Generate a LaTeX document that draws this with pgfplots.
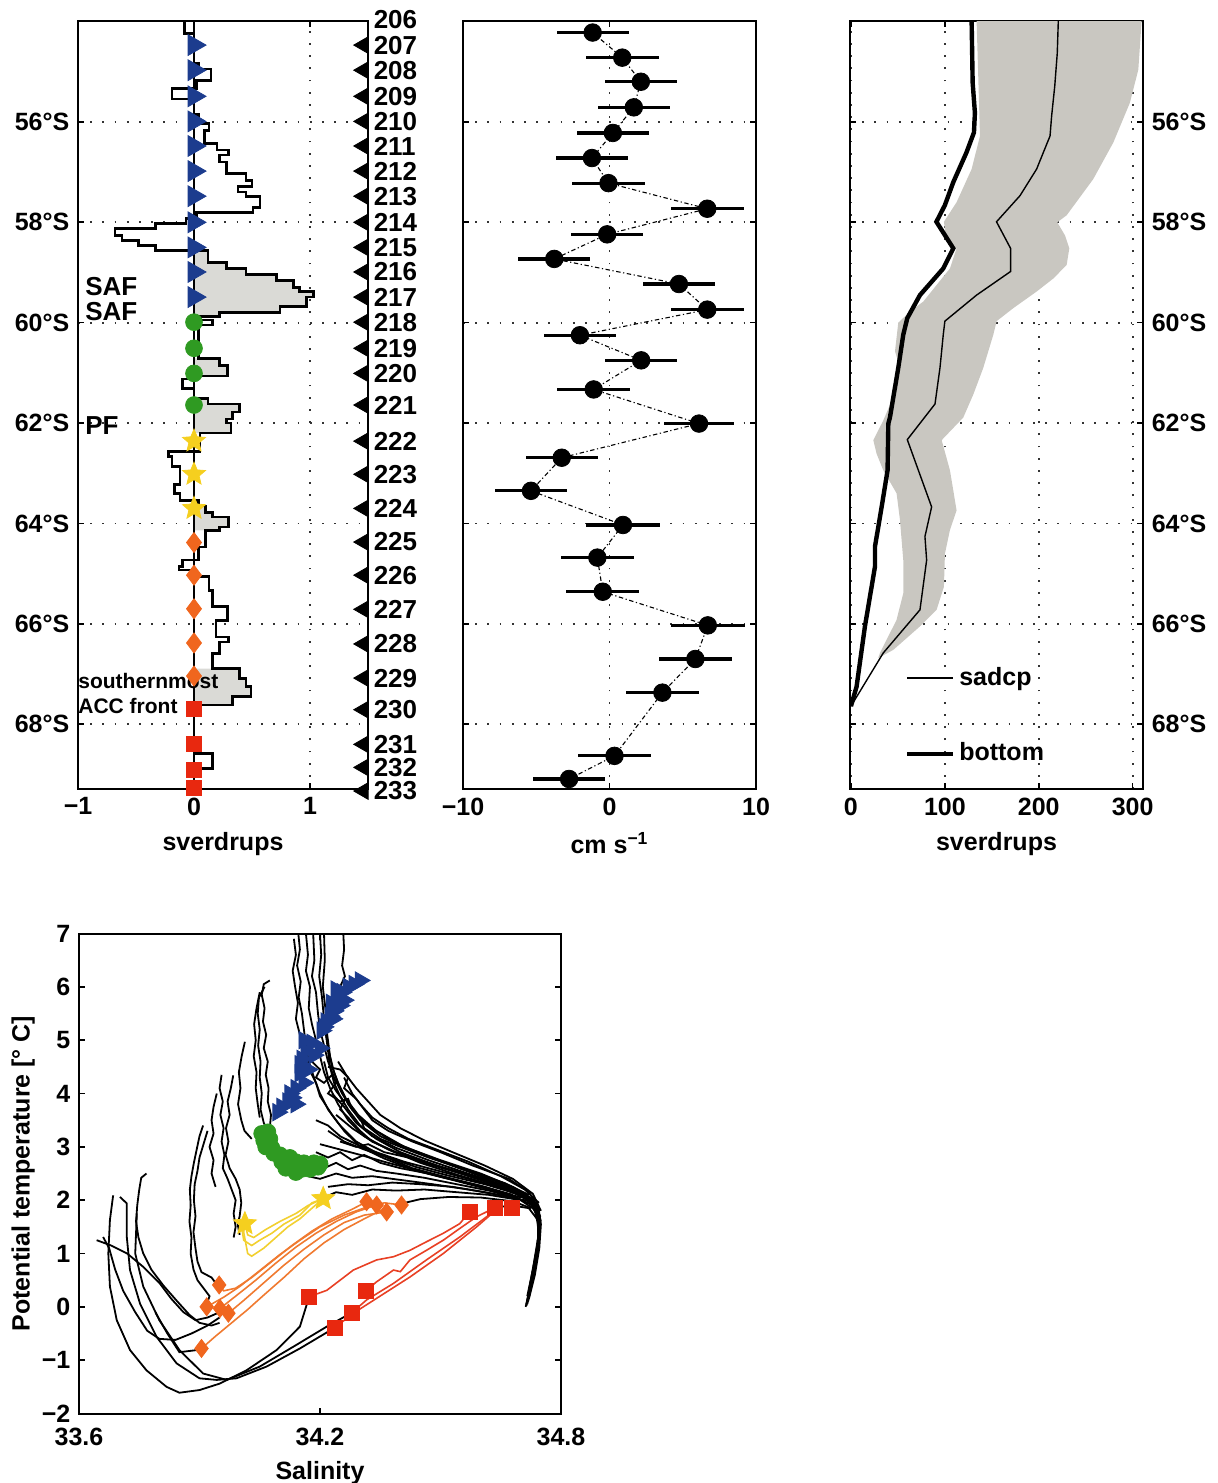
\documentclass[border=0pt]{standalone}
\usepackage{fontspec}
\setmainfont{Liberation Sans}
\usepackage{pgfplots}
\pgfplotsset{compat=1.18}
\usetikzlibrary{plotmarks}

\definecolor{navy}{HTML}{1C3C8E}
\definecolor{grn}{HTML}{2F9A22}
\definecolor{yel}{HTML}{F5CF1F}
\definecolor{org}{HTML}{F0661E}
\definecolor{rd}{HTML}{E8280F}
\definecolor{oline}{HTML}{F07A30}
\definecolor{rline}{HTML}{E84024}
\definecolor{yline}{HTML}{F2D030}
\definecolor{band}{HTML}{C9C7C1}
\definecolor{fillA}{HTML}{DADAD6}

% filled five-point star
\pgfdeclareplotmark{fstar}{%
  \pgfpathmoveto{\pgfpointpolar{90}{\pgfplotmarksize}}%
  \pgfpathlineto{\pgfpointpolar{126}{0.45\pgfplotmarksize}}%
  \pgfpathlineto{\pgfpointpolar{162}{\pgfplotmarksize}}%
  \pgfpathlineto{\pgfpointpolar{198}{0.45\pgfplotmarksize}}%
  \pgfpathlineto{\pgfpointpolar{234}{\pgfplotmarksize}}%
  \pgfpathlineto{\pgfpointpolar{270}{0.45\pgfplotmarksize}}%
  \pgfpathlineto{\pgfpointpolar{306}{\pgfplotmarksize}}%
  \pgfpathlineto{\pgfpointpolar{342}{0.45\pgfplotmarksize}}%
  \pgfpathlineto{\pgfpointpolar{18}{\pgfplotmarksize}}%
  \pgfpathlineto{\pgfpointpolar{54}{0.45\pgfplotmarksize}}%
  \pgfpathclose\pgfusepathqfillstroke}

\pgfplotsset{
  dotgrid/.style={grid=major,
    major grid style={draw=black!80, line width=0.9pt, dash pattern=on 0.9pt off 5.2pt}},
  latpanel/.style={scale only axis, anchor=south west, height=384pt,
    ymin=-69.29, ymax=-53.99, ytick={-68,-66,-64,-62,-60,-58,-56},
    dotgrid, tick align=inside, major tick length=3pt,
    tick style={black, line width=0.8pt}, axis line style={line width=1.1pt}},
  prof/.style={black, line width=0.9pt},
}

\begin{document}
\bfseries\fontsize{12.5}{15}\selectfont
\begin{tikzpicture}
\useasboundingbox (0pt,0pt) rectangle (609pt,-741.5pt);

%% ---------- panel 1: transport per station pair ----------
\begin{axis}[latpanel, at={(39pt,-394.5pt)}, width=145pt,
  xmin=-1, xmax=1.5, xtick={-1,0,1}, xticklabels={−1,0,1},
  yticklabels={68°S,66°S,64°S,62°S,60°S,58°S,56°S},
  ytick pos=left, xlabel={sverdrups}, clip=false]
\addplot[fill=fillA, draw=none, const plot mark right] coordinates {(0,-58.56)(0.12,-58.56)(0.28,-58.80)(0.45,-58.92)(0.71,-59.04)(0.86,-59.16)(0.91,-59.30)(1.03,-59.38)(0.97,-59.49)(0.74,-59.68)(0.22,-59.80)(0,-59.88)} -- cycle;
\addplot[fill=fillA, draw=none, const plot mark right] coordinates {(0,-60.71)(0.22,-60.71)(0.29,-60.85)(0,-61.06)} -- cycle;
\addplot[fill=fillA, draw=none, const plot mark right] coordinates {(0,-61.51)(0.12,-61.51)(0.39,-61.62)(0.33,-61.78)(0.28,-61.92)(0.32,-62.0)(0,-62.20)} -- cycle;
\addplot[fill=fillA, draw=none, const plot mark right] coordinates {(0,-63.54)(0.04,-63.54)(0.10,-63.65)(0.16,-63.78)(0.30,-63.87)(0.22,-64.07)(0,-64.14)} -- cycle;
\addplot[fill=fillA, draw=none, const plot mark right] coordinates {(0,-66.89)(0.39,-66.89)(0.45,-67.09)(0.49,-67.25)(0.33,-67.45)(0,-67.62)} -- cycle;
\addplot[black, line width=1.3pt, const plot mark right] coordinates {
(-0.08,-53.99)(0.0,-54.24)(0.04,-54.84)(0.145,-54.95)(0.02,-55.17)(-0.19,-55.34)(0.0,-55.54)(0.04,-55.85)
(0.13,-56.03)(0.09,-56.17)(0.20,-56.43)(0.30,-56.56)(0.22,-56.66)(0.28,-56.80)(0.45,-57.03)(0.50,-57.17)
(0.38,-57.29)(0.45,-57.40)(0.57,-57.49)(0.51,-57.70)(0.02,-57.80)(-0.07,-57.93)(-0.33,-58.02)(-0.68,-58.12)
(-0.62,-58.26)(-0.48,-58.36)(-0.33,-58.46)(0.12,-58.56)(0.28,-58.80)(0.45,-58.92)(0.71,-59.04)(0.86,-59.16)
(0.91,-59.30)(1.03,-59.38)(0.97,-59.49)(0.74,-59.68)(0.22,-59.80)(0.0,-59.88)(0.16,-59.95)(0.04,-60.05)
(0.22,-60.71)(0.29,-60.85)(0.0,-61.06)(-0.10,-61.12)(0.0,-61.31)(0.12,-61.51)(0.39,-61.62)(0.33,-61.78)
(0.28,-61.92)(0.32,-62.0)(0.05,-62.20)(-0.22,-62.57)(-0.19,-62.67)(-0.12,-62.87)(-0.17,-63.22)(-0.12,-63.40)
(0.04,-63.54)(0.10,-63.65)(0.16,-63.78)(0.30,-63.87)(0.22,-64.07)(0.10,-64.14)(0.04,-64.47)(-0.10,-64.73)
(-0.13,-64.86)(-0.01,-64.93)(0.13,-65.06)(0.16,-65.33)(0.29,-65.66)(0.19,-65.93)(0.30,-66.26)(0.22,-66.36)
(0.16,-66.59)(0.39,-66.89)(0.45,-67.09)(0.49,-67.25)(0.33,-67.45)(0.0,-67.62)(0.16,-68.58)(0.0,-68.88)(0.0,-69.29)};
\addplot[black, line width=0.8pt] coordinates {(0,-53.99)(0,-69.29)};
% station markers
\addplot[only marks, mark=triangle*, mark size=6pt, mark options={rotate=-90}, color=navy] coordinates {
(0,-54.47)(0,-54.97)(0,-55.49)(0,-55.99)(0,-56.48)(0,-56.98)(0,-57.48)(0,-58.00)(0,-58.50)(0,-58.99)(0,-59.49)};
\addplot[only marks, mark=*, mark size=4.2pt, color=grn] coordinates {(0,-59.99)(0,-60.51)(0,-61.01)(0,-61.64)};
\addplot[only marks, mark=fstar, mark size=6pt, color=yel] coordinates {(0,-62.36)(0,-63.02)(0,-63.70)};
\addplot[only marks, mark=diamond*, mark size=5pt, color=org] coordinates {(0,-64.38)(0,-65.03)(0,-65.70)(0,-66.38)(0,-67.04)};
\addplot[only marks, mark=square*, mark size=3.75pt, color=rd] coordinates {(0,-67.70)(0,-68.39)(0,-68.90)(0,-69.27)};
% station numbers
\addplot[only marks, mark=triangle*, mark size=4.8pt, mark options={rotate=90}, color=black,
  nodes near coords, point meta=explicit symbolic,
  every node near coord/.append style={anchor=west, inner sep=0pt, xshift=5pt, black,
    font=\fontsize{13}{13}\selectfont\bfseries}] coordinates {
(1.46,-54.47)[207](1.46,-54.97)[208](1.46,-55.49)[209](1.46,-55.99)[210](1.46,-56.48)[211]
(1.46,-56.98)[212](1.46,-57.48)[213](1.46,-58.00)[214](1.46,-58.50)[215](1.46,-58.99)[216]
(1.46,-59.49)[217](1.46,-59.99)[218](1.46,-60.51)[219](1.46,-61.01)[220](1.46,-61.64)[221]
(1.46,-62.36)[222](1.46,-63.02)[223](1.46,-63.70)[224](1.46,-64.37)[225](1.46,-65.03)[226]
(1.46,-65.71)[227](1.46,-66.40)[228](1.46,-67.08)[229](1.46,-67.71)[230](1.46,-68.40)[231]
(1.46,-68.86)[232](1.46,-69.33)[233]};
\addplot[only marks, mark=none, nodes near coords, point meta=explicit symbolic,
  every node near coord/.append style={anchor=west, inner sep=0pt, xshift=5pt, black,
    font=\fontsize{13}{13}\selectfont\bfseries}] coordinates {(1.46,-53.97)[206]};
\node[anchor=west, inner sep=0pt, font=\fontsize{13}{14}\selectfont\bfseries] at (axis cs:-0.94,-59.29) {SAF};
\node[anchor=west, inner sep=0pt, font=\fontsize{13}{14}\selectfont\bfseries] at (axis cs:-0.94,-59.77) {SAF};
\node[anchor=west, inner sep=0pt, font=\fontsize{13}{14}\selectfont\bfseries] at (axis cs:-0.94,-62.04) {PF};
\node[anchor=west, inner sep=0pt, font=\fontsize{10.5}{12}\selectfont\bfseries] at (axis cs:-1,-67.14) {southernmost};
\node[anchor=west, inner sep=0pt, font=\fontsize{10.5}{12}\selectfont\bfseries] at (axis cs:-1,-67.64) {ACC front};
\end{axis}

%% ---------- panel 2: velocity ----------
\begin{axis}[latpanel, at={(231.5pt,-394.5pt)}, width=146.5pt,
  xmin=-10, xmax=10, xtick={-10,0,10}, xticklabels={−10,0,10},
  yticklabels={}, xlabel={cm s\textsuperscript{−1}}, axis line style={line width=1.4pt}]
\addplot[black, line width=0.55pt, dash pattern=on 2.2pt off 1.3pt on 0.6pt off 1.3pt] coordinates {
(-1.15,-54.22)(0.87,-54.72)(2.14,-55.20)(1.66,-55.71)(0.23,-56.22)(-1.20,-56.72)(-0.07,-57.22)(6.67,-57.73)
(-0.16,-58.24)(-3.77,-58.73)(4.74,-59.23)(6.67,-59.74)(-2.02,-60.25)(2.16,-60.75)(-1.08,-61.33)(6.11,-62.01)
(-3.26,-62.69)(-5.36,-63.35)(0.92,-64.03)(-0.83,-64.68)(-0.46,-65.36)(6.71,-66.03)(5.86,-66.70)(3.61,-67.37)
(0.34,-68.63)(-2.76,-69.09)};
\addplot[black, only marks, mark=*, mark size=4.4pt,
  error bars/.cd, x dir=both, x explicit, error mark=none,
  error bar style={line width=1.6pt}] coordinates {
(-1.15,-54.22) +- (2.46,0) (0.87,-54.72) +- (2.49,0) (2.14,-55.20) +- (2.46,0) (1.66,-55.71) +- (2.47,0)
(0.23,-56.22) +- (2.48,0) (-1.20,-56.72) +- (2.48,0) (-0.07,-57.22) +- (2.48,0) (6.67,-57.73) +- (2.49,0)
(-0.16,-58.24) +- (2.47,0) (-3.77,-58.73) +- (2.47,0) (4.74,-59.23) +- (2.48,0) (6.67,-59.74) +- (2.5,0)
(-2.02,-60.25) +- (2.47,0) (2.16,-60.75) +- (2.48,0) (-1.08,-61.33) +- (2.49,0) (6.11,-62.01) +- (2.41,0)
(-3.26,-62.69) +- (2.47,0) (-5.36,-63.35) +- (2.45,0) (0.92,-64.03) +- (2.53,0) (-0.83,-64.68) +- (2.47,0)
(-0.46,-65.36) +- (2.49,0) (6.71,-66.03) +- (2.53,0) (5.86,-66.70) +- (2.48,0) (3.61,-67.37) +- (2.48,0)
(0.34,-68.63) +- (2.47,0) (-2.76,-69.09) +- (2.47,0)};
\end{axis}

%% ---------- panel 3: cumulative transport ----------
\begin{axis}[latpanel, at={(425pt,-394.5pt)}, width=146.5pt,
  xmin=-1, xmax=311, xtick={0,100,200,300}, xticklabels={0,100,200,300},
  yticklabels={68°S,66°S,64°S,62°S,60°S,58°S,56°S},
  yticklabel pos=right, xlabel={sverdrups},
  legend cell align=left,
  legend style={draw=none, fill=none, at={(axis cs:57,-66.77)}, anchor=north west,
    inner sep=0pt, row sep=23pt, font=\fontsize{12.5}{14}\selectfont\bfseries},
  legend image code/.code={\draw[#1] (0pt,0pt) -- (23pt,0pt);}]
\addplot[fill=band, draw=none, forget plot] coordinates {
(309.5,-53.99)(306,-54.96)(297,-55.62)(279.4,-56.41)(258,-57.14)(229.7,-57.86)(219.7,-58.0)(227.9,-58.26)
(232.5,-58.52)(229.7,-58.85)(215.5,-59.12)(197.7,-59.38)(172.9,-59.71)(155.1,-59.97)(151.6,-60.24)
(140.9,-60.9)(130.3,-61.43)(119.6,-61.89)(96.6,-62.34)(105.4,-62.94)(112.5,-63.74)(105.4,-64.13)
(100.1,-64.6)(99,-65.26)(91.2,-65.72)(73.5,-66.05)(45,-66.52)(29,-66.68)
(30.9,-66.58)(48.6,-65.92)(55.7,-65.39)(55.7,-64.73)(52.2,-63.93)(48.6,-63.4)(34.4,-62.94)(27.3,-62.61)
(23.8,-62.34)(34.4,-61.95)(43.3,-61.56)(52.2,-60.9)(46.9,-60.57)(50.4,-60.0)(62.8,-59.78)(77,-59.58)
(91.2,-59.25)(105.4,-58.92)(112.5,-58.52)(101.9,-58.39)(99,-57.99)(112.5,-57.6)(128.5,-56.94)
(137.4,-56.28)(136.7,-55.82)(133.8,-53.99)} -- cycle;
\addplot[black, line width=0.7pt] coordinates {
(220.8,-53.99)(219.7,-54.63)(217,-55.29)(213.7,-55.88)(212,-56.28)(197.7,-56.94)(180,-57.47)(155,-57.99)
(170,-58.52)(170,-58.98)(133.8,-59.45)(100,-59.97)(98.3,-60.24)(94.8,-60.9)(89.5,-61.62)(60,-62.33)
(85.9,-63.67)(78.8,-64.26)(80.6,-64.73)(73.5,-65.72)(34.4,-66.58)(0,-67.64)};
\addlegendentry{sadcp}
\addplot[black, line width=2.2pt] coordinates {
(128.5,-53.99)(129.6,-55.22)(132,-55.82)(131,-56.21)(123,-56.61)(109,-57.2)(100,-57.66)(91,-57.99)
(109,-58.52)(98.3,-58.92)(73.5,-59.45)(60,-59.91)(55.7,-60.24)(50.4,-60.9)(41.5,-61.89)(39.8,-62.01)
(39,-62.94)(32.7,-63.67)(25.6,-64.46)(25.6,-64.86)(14.9,-66.05)(6,-67.25)(0,-67.64)};
\addlegendentry{bottom}
\end{axis}

%% ---------- panel 4: theta-S ----------
\begin{axis}[at={(39.5pt,-706.75pt)}, anchor=south west, scale only axis,
  width=241pt, height=240pt, xmin=33.6, xmax=34.8, ymin=-2, ymax=7,
  xtick={33.6,34.2,34.8}, xticklabels={33.6,34.2,34.8},
  ytick={-2,-1,0,1,2,3,4,5,6,7}, yticklabels={−2,−1,0,1,2,3,4,5,6,7},
  tick align=inside, major tick length=3pt, tick style={black, line width=0.8pt},
  axis line style={line width=1pt},
  xticklabel style={yshift=-3pt}, xlabel style={yshift=1pt},
  ylabel style={yshift=-5pt},
  xlabel={Salinity}, ylabel={Potential temperature [° C]}]
% northern deep profiles
\addplot[prof] coordinates {(34.146,7.0)(34.150,6.7)(34.143,6.4)(34.152,6.1)(34.147,5.8)(34.155,5.5)(34.160,5.2)(34.165,4.9)(34.172,4.6)(34.185,4.3)(34.2,4.0)(34.22,3.7)(34.25,3.4)(34.29,3.1)(34.35,2.85)(34.43,2.6)(34.52,2.42)(34.61,2.25)(34.68,2.08)(34.73,1.9)(34.745,1.6)(34.742,1.2)(34.73,0.7)(34.716,0.2)};
\addplot[prof] coordinates {(34.165,7.0)(34.170,6.6)(34.165,6.3)(34.175,6.0)(34.172,5.6)(34.18,5.3)(34.19,5.0)(34.2,4.7)(34.21,4.4)(34.225,4.1)(34.245,3.8)(34.27,3.5)(34.31,3.2)(34.37,2.95)(34.45,2.7)(34.54,2.48)(34.63,2.28)(34.7,2.1)(34.738,1.85)(34.748,1.5)(34.744,1.1)(34.732,0.6)(34.718,0.1)};
\addplot[prof] coordinates {(34.183,7.0)(34.186,6.5)(34.18,6.2)(34.19,5.9)(34.195,5.5)(34.2,5.2)(34.21,4.9)(34.22,4.6)(34.235,4.3)(34.255,4.0)(34.28,3.7)(34.32,3.4)(34.38,3.1)(34.46,2.85)(34.55,2.6)(34.64,2.35)(34.71,2.12)(34.742,1.9)(34.75,1.55)(34.746,1.1)(34.735,0.6)(34.72,0.15)};
\addplot[prof] coordinates {(34.2,7.0)(34.203,6.6)(34.198,6.2)(34.205,5.8)(34.21,5.4)(34.215,5.1)(34.222,4.8)(34.23,4.5)(34.245,4.2)(34.265,3.9)(34.295,3.6)(34.34,3.3)(34.41,3.0)(34.5,2.75)(34.6,2.5)(34.68,2.25)(34.73,2.02)(34.748,1.7)(34.745,1.2)(34.73,0.6)(34.712,0.0)};
\addplot[prof] coordinates {(34.21,7.0)(34.212,6.5)(34.207,6.0)(34.215,5.5)(34.218,5.1)(34.225,4.7)(34.235,4.4)(34.25,4.1)(34.27,3.8)(34.3,3.5)(34.35,3.2)(34.42,2.95)(34.51,2.7)(34.6,2.45)(34.67,2.2)(34.72,1.98)(34.742,1.7)(34.743,1.3)(34.732,0.8)(34.72,0.3)};
\addplot[prof] coordinates {(34.215,5.1)(34.22,4.8)(34.225,4.5)(34.235,4.2)(34.25,3.95)(34.27,3.7)(34.3,3.4)(34.34,3.15)(34.4,2.9)(34.48,2.68)(34.57,2.45)(34.65,2.25)(34.71,2.05)(34.74,1.8)(34.746,1.45)(34.74,1.0)(34.725,0.45)(34.714,0.02)};
\addplot[prof] coordinates {(34.258,7.0)(34.26,6.7)(34.255,6.4)(34.262,6.2)(34.25,6.0)(34.24,5.8)(34.23,5.5)};
\addplot[prof] coordinates {(34.135,6.9)(34.14,6.6)(34.132,6.3)(34.138,6.0)(34.145,5.7)(34.14,5.4)(34.15,5.1)(34.16,4.8)(34.17,4.5)(34.19,4.2)(34.2,3.95)(34.23,3.6)(34.26,3.3)(34.3,3.0)(34.36,2.78)(34.44,2.55)(34.53,2.38)(34.62,2.2)(34.69,2.05)(34.735,1.82)(34.745,1.45)(34.738,0.9)(34.722,0.35)(34.714,0.05)};
\addplot[prof] coordinates {(34.21,4.6)(34.22,4.3)(34.24,4.05)(34.26,3.85)(34.25,3.7)(34.27,3.55)(34.3,3.3)(34.33,3.1)(34.38,2.92)(34.45,2.74)(34.55,2.52)(34.64,2.3)(34.7,2.1)};
\addplot[prof] coordinates {(34.18,4.6)(34.2,4.45)(34.19,4.3)(34.21,4.2)(34.23,4.35)(34.24,4.2)(34.22,4.0)(34.25,3.85)(34.27,3.9)(34.28,3.7)(34.3,3.55)(34.31,3.35)(34.35,3.15)(34.4,3.0)(34.47,2.8)(34.56,2.58)(34.66,2.32)(34.72,2.1)};
\addplot[prof] coordinates {(34.22,4.5)(34.25,4.45)(34.27,4.3)(34.26,4.1)(34.29,3.9)(34.31,3.7)(34.33,3.5)(34.37,3.3)(34.43,3.1)(34.5,2.9)(34.58,2.65)(34.67,2.4)(34.72,2.15)(34.745,1.85)(34.748,1.4)(34.74,0.9)(34.726,0.4)(34.716,0.05)};
\addplot[prof] coordinates {(34.23,4.0)(34.26,3.75)(34.29,3.45)(34.33,3.2)(34.39,2.98)(34.47,2.75)(34.56,2.52)(34.65,2.3)(34.71,2.1)(34.74,1.85)};
\addplot[prof] coordinates {(34.24,3.6)(34.28,3.35)(34.33,3.1)(34.39,2.9)(34.46,2.7)(34.55,2.5)(34.63,2.32)(34.7,2.12)(34.74,1.9)(34.75,1.6)};
\addplot[prof] coordinates {(34.22,3.3)(34.26,3.1)(34.31,2.95)(34.37,2.8)(34.44,2.62)(34.52,2.46)(34.61,2.3)(34.69,2.12)};
\addplot[prof] coordinates {(34.2,3.05)(34.25,2.95)(34.3,2.85)(34.36,2.72)(34.43,2.58)(34.51,2.42)(34.6,2.27)(34.68,2.1)};
\addplot[prof] coordinates {(34.26,4.3)(34.28,4.0)(34.3,3.8)(34.33,3.55)(34.37,3.35)(34.42,3.15)(34.49,2.95)(34.57,2.72)(34.65,2.45)(34.71,2.2)(34.745,1.95)};
\addplot[prof] coordinates {(34.245,4.6)(34.265,4.35)(34.29,4.1)(34.32,3.85)(34.35,3.6)(34.4,3.35)(34.46,3.12)(34.53,2.9)(34.61,2.65)(34.68,2.4)(34.73,2.12)(34.75,1.8)};
\addplot[prof] coordinates {(34.19,3.5)(34.22,3.4)(34.25,3.2)(34.29,3.05)(34.34,2.9)(34.41,2.72)(34.49,2.56)(34.58,2.38)(34.66,2.2)(34.72,2.02)};
\addplot[prof] coordinates {(34.19,2.9)(34.22,2.8)(34.25,2.9)(34.28,2.75)(34.31,2.85)(34.35,2.7)(34.4,2.6)(34.47,2.5)(34.55,2.35)(34.63,2.2)(34.7,2.05)};
\addplot[prof] coordinates {(34.21,2.6)(34.24,2.7)(34.27,2.58)(34.3,2.65)(34.34,2.55)(34.39,2.5)(34.46,2.42)(34.54,2.3)(34.62,2.18)(34.69,2.04)};
\addplot[prof] coordinates {(34.17,2.45)(34.2,2.4)(34.24,2.5)(34.28,2.42)(34.33,2.45)(34.4,2.38)(34.48,2.3)(34.57,2.2)(34.66,2.08)(34.72,1.98)};
\addplot[prof] coordinates {(34.25,3.1)(34.29,3.0)(34.32,3.05)(34.36,2.9)(34.42,2.8)(34.5,2.62)(34.6,2.42)(34.68,2.2)(34.73,2.0)};
\addplot[prof] coordinates {(34.21,2.05)(34.24,2.15)(34.28,2.1)(34.33,2.2)(34.39,2.18)(34.46,2.2)(34.54,2.15)(34.62,2.1)(34.7,2.0)};
\addplot[prof] coordinates {(34.22,2.25)(34.27,2.3)(34.32,2.28)(34.38,2.33)(34.45,2.3)(34.53,2.25)(34.61,2.15)(34.69,2.03)};
\addplot[prof] coordinates {(34.40,1.93)(34.45,2.02)(34.52,2.06)(34.6,2.05)(34.68,1.98)(34.725,1.85)};
\addplot[prof] coordinates {(34.64,1.87)(34.68,1.9)(34.72,1.85)(34.74,1.65)};
% surface profiles
\addplot[prof] coordinates {(34.075,6.12)(34.06,6.05)(34.055,5.85)(34.062,5.6)(34.058,5.35)(34.066,5.1)(34.06,4.85)(34.07,4.6)(34.065,4.35)(34.072,4.1)(34.07,3.85)(34.078,3.6)(34.075,3.35)};
\addplot[prof] coordinates {(34.062,6.0)(34.048,5.8)(34.045,5.5)(34.05,5.2)(34.046,4.9)(34.052,4.6)(34.05,4.3)(34.055,4.0)(34.052,3.7)(34.06,3.45)(34.07,3.3)};
\addplot[prof] coordinates {(34.05,5.9)(34.042,5.6)(34.036,5.3)(34.04,5.0)(34.035,4.7)(34.042,4.4)(34.04,4.1)(34.045,3.8)(34.05,3.55)};
\addplot[prof] coordinates {(34.013,4.97)(34.005,4.7)(33.998,4.4)(34.002,4.1)(33.996,3.8)(34.004,3.5)(34.012,3.3)(34.03,3.15)};
\addplot[prof] coordinates {(33.984,4.34)(33.978,4.1)(33.97,3.85)(33.975,3.6)(33.966,3.35)(33.972,3.1)(33.965,2.85)(33.975,2.6)(33.99,2.4)(34.0,2.2)(34.004,1.95)(34.0,1.7)(33.995,1.55)(34.0,1.35)};
\addplot[prof] coordinates {(33.955,4.35)(33.95,4.1)(33.958,3.85)(33.952,3.6)(33.96,3.35)(33.955,3.1)(33.962,2.85)(33.958,2.6)(33.97,2.4)(33.98,2.2)(33.99,2.0)(33.985,1.75)(33.99,1.5)(33.985,1.3)};
\addplot[prof] coordinates {(33.943,4.0)(33.935,3.75)(33.93,3.5)(33.935,3.25)(33.925,3.0)(33.935,2.75)(33.93,2.5)(33.94,2.25)};
\addplot[prof] coordinates {(33.909,3.4)(33.9,3.2)(33.893,2.95)(33.886,2.7)(33.88,2.45)(33.876,2.2)(33.878,1.9)(33.875,1.6)(33.88,1.3)(33.878,1.0)(33.885,0.7)(33.895,0.5)(33.91,0.35)(33.925,0.2)(33.918,0.05)};
\addplot[prof] coordinates {(33.92,3.3)(33.91,3.05)(33.9,2.8)(33.895,2.55)(33.888,2.3)(33.886,2.0)(33.89,1.7)(33.885,1.4)(33.89,1.1)(33.895,0.85)(33.905,0.65)(33.93,0.55)(33.94,0.45)};
\addplot[prof] coordinates {(33.768,2.5)(33.755,2.42)(33.75,2.2)(33.745,1.9)(33.742,1.6)(33.748,1.3)(33.76,1.0)(33.78,0.7)(33.81,0.4)(33.845,0.1)(33.875,-0.15)(33.9,-0.3)(33.93,-0.35)(33.95,-0.3)};
% winter-water profiles
\addplot[prof] coordinates {(33.685,2.09)(33.677,1.63)(33.673,1.0)(33.677,0.38)(33.694,-0.25)(33.727,-0.81)(33.768,-1.19)(33.818,-1.5)(33.85,-1.61)(33.90,-1.56)(33.95,-1.44)(34.017,-1.19)(34.092,-0.81)(34.15,-0.37)(34.173,0.19)};
\addplot[prof] coordinates {(33.702,2.06)(33.719,1.94)(33.719,1.31)(33.727,0.69)(33.752,0.06)(33.793,-0.56)(33.843,-1.06)(33.90,-1.34)(33.943,-1.37)(33.992,-1.34)(34.067,-1.12)(34.15,-0.78)(34.237,-0.39)};
\addplot[prof] coordinates {(33.744,1.75)(33.74,1.0)(33.76,0.38)(33.80,-0.25)(33.85,-0.81)(33.909,-1.25)(33.968,-1.37)(34.05,-1.12)(34.133,-0.75)(34.217,-0.37)(34.279,-0.11)};
\addplot[prof] coordinates {(33.644,1.25)(33.68,1.15)(33.72,1.0)(33.76,0.75)(33.80,0.45)(33.83,0.15)(33.86,-0.1)(33.89,-0.25)(33.92,-0.2)(33.95,-0.1)};
\addplot[prof] coordinates {(33.66,1.31)(33.675,1.1)(33.69,0.7)(33.71,0.3)(33.74,-0.1)(33.77,-0.45)(33.80,-0.6)(33.84,-0.62)(33.88,-0.5)(33.92,-0.35)(33.95,-0.2)};
\addplot[prof] coordinates {(33.79,-0.1)(33.82,-0.5)(33.85,-0.85)(33.905,-0.8)};
% colored segments
\addplot[yline, line width=0.8pt] coordinates {(34.013,1.56)(34.01,1.4)(34.015,1.2)(34.02,1.0)(34.03,0.95)(34.06,1.1)(34.09,1.3)(34.12,1.5)(34.15,1.65)(34.18,1.85)(34.208,2.03)};
\addplot[yline, line width=0.8pt] coordinates {(34.013,1.56)(34.02,1.35)(34.035,1.3)(34.065,1.45)(34.1,1.6)(34.14,1.75)(34.17,1.9)(34.2,2.0)};
\addplot[yline, line width=0.8pt] coordinates {(34.005,1.5)(34.01,1.25)(34.03,1.15)(34.05,1.25)(34.08,1.38)(34.11,1.55)(34.15,1.72)(34.18,1.95)(34.208,2.03)};
\addplot[oline, line width=0.8pt] coordinates {(33.949,0.41)(33.96,0.3)(33.99,0.35)(34.03,0.55)(34.08,0.85)(34.13,1.15)(34.18,1.42)(34.23,1.65)(34.28,1.83)(34.316,1.97)};
\addplot[oline, line width=0.8pt] coordinates {(33.951,-0.03)(33.99,0.2)(34.04,0.5)(34.09,0.82)(34.14,1.12)(34.19,1.38)(34.24,1.6)(34.29,1.78)(34.341,1.91)};
\addplot[oline, line width=0.8pt] coordinates {(33.972,-0.12)(34.01,0.12)(34.06,0.45)(34.11,0.78)(34.16,1.08)(34.21,1.35)(34.26,1.58)(34.31,1.72)(34.366,1.78)};
\addplot[oline, line width=0.8pt] coordinates {(33.918,0.0)(33.96,0.18)(34.0,0.38)(34.05,0.68)(34.10,0.98)(34.15,1.25)(34.2,1.5)(34.26,1.72)(34.32,1.88)(34.36,1.95)(34.403,1.91)};
\addplot[oline, line width=0.8pt] coordinates {(33.905,-0.78)(33.94,-0.55)(33.98,-0.3)(34.02,-0.05)(34.06,0.22)(34.11,0.55)(34.16,0.9)(34.21,1.2)(34.26,1.45)(34.31,1.65)(34.35,1.8)(34.366,1.78)};
\addplot[rline, line width=0.8pt] coordinates {(34.173,0.19)(34.217,0.31)(34.283,0.69)(34.341,0.88)(34.383,0.94)(34.424,1.06)(34.465,1.22)(34.507,1.38)(34.548,1.56)(34.572,1.78)};
\addplot[rline, line width=0.8pt] coordinates {(34.314,0.30)(34.341,0.47)(34.383,0.69)(34.40,0.66)(34.424,0.88)(34.465,1.06)(34.507,1.25)(34.548,1.47)(34.59,1.69)(34.636,1.86)};
\addplot[rline, line width=0.8pt] coordinates {(34.279,-0.11)(34.316,0.13)(34.383,0.44)(34.465,0.88)(34.548,1.31)(34.615,1.69)(34.648,1.91)};
\addplot[rline, line width=0.8pt] coordinates {(34.237,-0.39)(34.283,-0.12)(34.341,0.16)(34.424,0.56)(34.507,1.0)(34.59,1.5)(34.648,1.88)};
% markers
\addplot[only marks, mark=triangle*, mark size=5pt, mark options={rotate=-90}, color=navy] coordinates {
(34.30,6.12)(34.285,6.05)(34.27,6.0)(34.255,5.9)(34.245,5.8)(34.25,5.65)(34.235,5.55)(34.225,5.45)(34.215,5.35)(34.21,5.25)
(34.24,5.95)(34.228,5.7)(34.205,5.18)(34.232,5.4)(34.26,5.75)(34.16,5.0)(34.18,4.95)(34.2,4.85)(34.165,4.8)(34.185,4.72)(34.155,4.65)
(34.17,4.45)(34.15,4.38)(34.16,4.2)(34.14,4.1)(34.13,3.92)(34.12,3.85)(34.105,3.75)(34.14,3.8)(34.095,3.65)(34.15,4.55)(34.125,4.0)};
\addplot[only marks, mark=*, mark size=4pt, color=grn] coordinates {
(34.055,3.25)(34.07,3.28)(34.06,3.12)(34.075,3.15)(34.065,3.0)(34.08,2.98)(34.085,2.88)(34.1,2.85)(34.105,2.72)
(34.12,2.7)(34.115,2.6)(34.135,2.62)(34.14,2.52)(34.155,2.58)(34.17,2.65)(34.185,2.7)(34.2,2.68)(34.195,2.62)
(34.175,2.58)(34.16,2.7)(34.14,2.72)(34.125,2.8)};
\addplot[only marks, mark=fstar, mark size=6pt, color=yel] coordinates {(34.013,1.56)(34.208,2.03)};
\addplot[only marks, mark=diamond*, mark size=4.5pt, color=org] coordinates {
(33.949,0.41)(33.918,0.0)(33.951,-0.03)(33.972,-0.12)(33.905,-0.78)(34.316,1.97)(34.341,1.91)(34.366,1.78)(34.403,1.91)};
\addplot[only marks, mark=square*, mark size=3.75pt, color=rd] coordinates {
(34.173,0.19)(34.314,0.30)(34.279,-0.11)(34.237,-0.39)(34.572,1.78)(34.636,1.86)(34.677,1.85)};
\end{axis}
\end{tikzpicture}
\end{document}
